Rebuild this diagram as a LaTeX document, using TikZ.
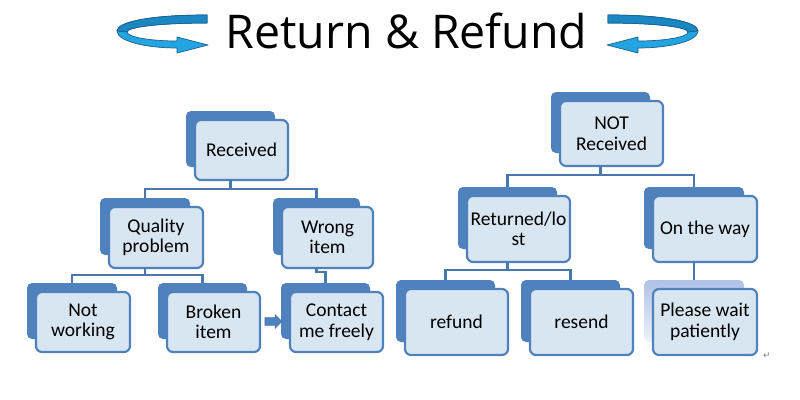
\documentclass[tikz,border=0pt]{standalone}
\usepackage{fontspec}
\setmainfont{Carlito}
\newfontfamily\titlefont{Open Sans}
\newfontfamily\symbfont{DejaVu Sans}
\usetikzlibrary{shapes.arrows}
\definecolor{backc}{HTML}{4F81BD}
\definecolor{frontc}{HTML}{D8E6F2}
\definecolor{edgec}{HTML}{4F81BD}
\definecolor{linec}{HTML}{4A78AE}
\definecolor{ribl}{HTML}{22A5E0}
\definecolor{ribd}{HTML}{1A86C2}
\definecolor{ribo}{HTML}{1D5F8F}
\definecolor{waittop}{HTML}{AFC2E6}
\definecolor{waitbot}{HTML}{EEF2FA}
\tikzset{
  fbox/.style={draw=edgec, fill=frontc, line width=2.2pt, rounded corners=6pt,
    align=center, inner sep=0pt, font=\fontsize{19.5}{20.5}\selectfont},
  bbox/.style={fill=backc, rounded corners=5pt},
  wbox/.style={top color=waittop, bottom color=waitbot, rounded corners=5pt},
  conn/.style={draw=linec, line width=2.2pt},
  ribbonfront/.style={fill=ribl, draw=ribo, line width=0.7pt, line join=round},
  ribbonback/.style={fill=ribd, draw=ribo, line width=0.7pt, line join=round},
  blockarrow/.style={single arrow, fill=backc, draw=linec, line width=0.6pt,
    minimum height=17pt, inner sep=3.5pt, single arrow head extend=3pt},
}
% name, x1, y1, x2, y2, text, back style
\newcommand\srbox[7]{%
  \path[#7] ({#2-9},{#3-9}) rectangle ({#4-13},{#5-13});
  \node[fbox, minimum width={(#4-#2)*1pt}, minimum height={(#5-#3)*1pt}] (#1)
    at ({(#2+#4)/2},{(#3+#5)/2}) {#6};
  \coordinate (#1-t) at ({(#2-9+#4-13)/2},{#3-9});
  \coordinate (#1-b) at ({(#2-9+#4-13)/2},{#5});
}
\newcommand\ribbonshape{%
  \path[ribbonfront] (207,15) .. controls (150,15) and (117,22) .. (117,31)
    .. controls (117,41) and (145,48) .. (177,48) -- (177,53) -- (208,45) -- (177,37)
    -- (177,41) .. controls (150,41) and (127,37) .. (127,32)
    .. controls (127,27) and (160,23) .. (207,23) -- cycle;
  \path[ribbonback] (207,15) .. controls (150,15) and (117,22) .. (117,31)
    -- (127,32) .. controls (127,27) and (160,23) .. (207,23) -- cycle;
}
\begin{document}
\begin{tikzpicture}[x=1pt,y=-1pt]
\useasboundingbox (0,0) rectangle (800,399);
\fill[white] (0,0) rectangle (800,399);

% title
\node[anchor=base, inner sep=0pt, font=\titlefont\fontsize{46.5}{46.5}\selectfont] (title)
  at (406.5,48) {Return \& Refund};
\ribbonshape
\begin{scope}[shift={(815,0)}, xscale=-1]
\ribbonshape
\end{scope}

% left tree
\srbox{Received}{195}{120}{288}{180}{Received}{bbox}
\srbox{Quality}{109}{207}{203}{268}{Quality\\problem}{bbox}
\srbox{Wrong}{282}{207}{373}{268}{Wrong\\item}{bbox}
\srbox{NotW}{36}{292}{130}{352}{Not\\working}{bbox}
\srbox{Broken}{167}{292}{260}{352}{Broken\\item}{bbox}
\srbox{Contact}{290}{292}{383}{352}{Contact\\me freely}{bbox}

% right tree
\srbox{NotR}{560}{101}{663}{166}{NOT\\Received}{bbox}
\srbox{Returned}{467}{196}{570}{262}{Returned/lo\\st}{bbox}
\srbox{OnWay}{653}{196}{757}{262}{On the way}{bbox}
\srbox{Refund}{405}{289}{508}{355}{refund}{bbox}
\srbox{Resend}{530}{289}{633}{355}{resend}{bbox}
\srbox{Wait}{653}{289}{757}{355}{Please wait\\patiently}{wbox}

% connectors
\draw[conn] (Received-b) -- ++(0,9) -| (Quality-t);
\draw[conn] (Received-b) -- ++(0,9) -| (Wrong-t);
\draw[conn] (Quality-b) -- ++(0,7) -| (NotW-t);
\draw[conn] (Quality-b) -- ++(0,7) -| (Broken-t);
\draw[conn] (Wrong-b) -- ++(0,4) -| (Contact-t);
\draw[conn] (NotR-b) -- ++(0,9) -| (Returned-t);
\draw[conn] (NotR-b) -- ++(0,9) -| (OnWay-t);
\draw[conn] (Returned-b) -- ++(0,8) -| (Refund-t);
\draw[conn] (Returned-b) -- ++(0,8) -| (Resend-t);
\draw[conn] (OnWay-b) -- (Wait-t);

\node[blockarrow] (arr) at (271.5,321.5) {};
\node[text=gray, inner sep=0pt, font=\symbfont\fontsize{9}{9}\selectfont] (pm) at (767,356) {↵};
\end{tikzpicture}
\end{document}
